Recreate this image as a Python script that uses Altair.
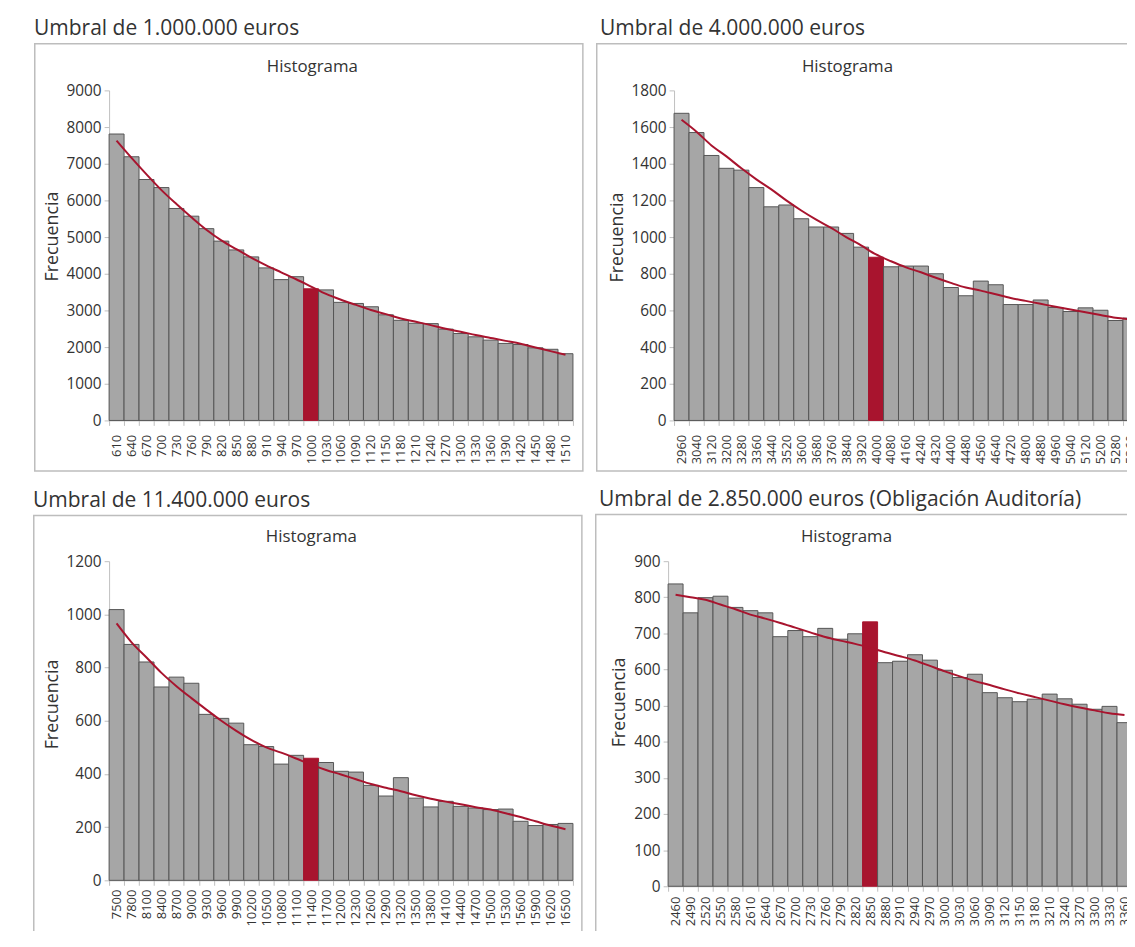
import altair as alt
import pandas as pd

FONT = "Open Sans"
TXT = "#333333"
RED = "#a8142e"
GRAY = "#a6a6a6"
EDGE = "#555555"
BOX = "#bdbdbd"
AX = "#bfbfbf"

# ---------------- data ----------------
p1_title = "Umbral de 1.000.000 euros"
p1_bins = ["610", "640", "670", "700", "730", "760", "790", "820", "850", "880",
           "910", "940", "970", "1000", "1030", "1060", "1090", "1120", "1150", "1180",
           "1210", "1240", "1270", "1300", "1330", "1360", "1390", "1420", "1450", "1480", "1510"]
p1_counts = [7810, 7190, 6570, 6350, 5780, 5570, 5230, 4890, 4650, 4460,
             4160, 3840, 3920, 3590, 3560, 3220, 3190, 3100, 2880, 2730,
             2650, 2640, 2490, 2370, 2280, 2190, 2100, 2070, 1980, 1940, 1820]
p1_trend = [7630, 7160, 6710, 6280, 5900, 5540, 5200, 4910, 4670, 4440,
            4230, 4040, 3850, 3650, 3450, 3290, 3150, 3010, 2900, 2780,
            2690, 2600, 2500, 2420, 2330, 2250, 2170, 2090, 1990, 1890, 1790]
p1_hi = "1000"

p2_title = "Umbral de 4.000.000 euros"
p2_bins = ["2960", "3040", "3120", "3200", "3280", "3360", "3440", "3520", "3600", "3680",
           "3760", "3840", "3920", "4000", "4080", "4160", "4240", "4320", "4400", "4480",
           "4560", "4640", "4720", "4800", "4880", "4960", "5040", "5120", "5200", "5280", "5360"]
p2_counts = [1675, 1570, 1445, 1375, 1365, 1270, 1165, 1175, 1100, 1055,
             1055, 1020, 945, 890, 838, 842, 842, 800, 725, 680,
             760, 740, 632, 632, 657, 616, 594, 614, 601, 545, 558]
p2_trend = [1640, 1575, 1500, 1440, 1375, 1315, 1260, 1200, 1145, 1095,
            1050, 1000, 955, 905, 868, 835, 808, 778, 750, 725,
            708, 688, 668, 652, 636, 620, 605, 590, 575, 560, 552]
p2_hi = "4000"

p3_title = "Umbral de 11.400.000 euros"
p3_bins = ["7500", "7800", "8100", "8400", "8700", "9000", "9300", "9600", "9900", "10200",
           "10500", "10800", "11100", "11400", "11700", "12000", "12300", "12600", "12900", "13200",
           "13500", "13800", "14100", "14400", "14700", "15000", "15300", "15600", "15900", "16200", "16500"]
p3_counts = [1018, 887, 821, 727, 764, 741, 624, 609, 591, 510,
             503, 437, 470, 459, 443, 410, 407, 357, 317, 386,
             309, 276, 297, 278, 272, 266, 268, 222, 206, 210, 214]
p3_trend = [966, 895, 838, 780, 730, 685, 642, 600, 562, 528,
            500, 480, 458, 435, 415, 398, 380, 362, 348, 335,
            320, 307, 296, 286, 275, 266, 252, 238, 222, 206, 192]
p3_hi = "11400"

p4_title = "Umbral de 2.850.000 euros (Obligación Auditoría)"
p4_bins = ["2460", "2490", "2520", "2550", "2580", "2610", "2640", "2670", "2700", "2730",
           "2760", "2790", "2820", "2850", "2880", "2910", "2940", "2970", "3000", "3030",
           "3060", "3090", "3120", "3150", "3180", "3210", "3240", "3270", "3300", "3330", "3360"]
p4_counts = [837, 757, 799, 803, 772, 763, 757, 691, 708, 691,
             714, 684, 699, 732, 619, 623, 641, 626, 598, 578,
             587, 536, 522, 511, 518, 532, 519, 504, 490, 498, 453]
p4_trend = [807, 800, 793, 780, 767, 752, 741, 729, 716, 703,
            690, 680, 671, 660, 648, 637, 625, 610, 595, 581,
            568, 557, 545, 534, 524, 514, 504, 495, 487, 479, 474]
p4_hi = "2850"

one = pd.DataFrame({"k": [0]})
W = 468


def panel(title, bins, counts, trend, hi, ymax, ystep, height, box, hx, lpad, tdx, ty):
    df = pd.DataFrame({"bin": bins, "count": counts, "trend": trend})
    df["hi"] = df["bin"] == hi
    xscale = alt.Scale(paddingInner=0, paddingOuter=0)
    xaxis = alt.Axis(title=None, labelAngle=-90, tickBand="extent",
                     labelFontSize=13, labelFont=FONT, labelColor=TXT,
                     labelPadding=lpad, tickSize=5, tickColor=AX,
                     domainColor=AX, labelOverlap=False, labelBound=False)
    yaxis = alt.Axis(values=list(range(0, ymax + 1, ystep)), format="d", grid=False,
                     title="Frecuencia", titleFont=FONT, titleFontSize=18,
                     titleFontWeight="normal", titleColor=TXT, titlePadding=5,
                     titleY=ty,
                     labelFontSize=15.5, labelFont=FONT, labelColor=TXT,
                     labelPadding=3, tickSize=5, tickColor=AX, domainColor=AX)
    yscale = alt.Scale(domain=[0, ymax], nice=False)

    frame = alt.Chart(one).mark_rect(fill="transparent", stroke=BOX, strokeWidth=1.5).encode(
        x=alt.value(box[0]), x2=alt.value(box[1]), y=alt.value(box[2]), y2=alt.value(box[3]))
    bars = alt.Chart(df).mark_bar(strokeWidth=1).encode(
        x=alt.X("bin:N", sort=None, scale=xscale, axis=xaxis),
        y=alt.Y("count:Q", scale=yscale, axis=yaxis),
        fill=alt.condition(alt.datum.hi, alt.value(RED), alt.value(GRAY)),
        stroke=alt.condition(alt.datum.hi, alt.value(RED), alt.value(EDGE)),
    )
    line = alt.Chart(df).mark_line(color=RED, strokeWidth=2, interpolate="monotone").encode(
        x=alt.X("bin:N", sort=None, scale=xscale, axis=xaxis),
        y=alt.Y("trend:Q", scale=yscale, axis=yaxis),
    )
    label = alt.Chart(one).mark_text(text="Histograma", font=FONT, fontSize=17, color=TXT,
                                     baseline="alphabetic", align="center").encode(
        x=alt.value(hx), y=alt.value(-19))
    return alt.layer(frame, bars, line, label).properties(
        width=W, height=height,
        title=alt.TitleParams(title, anchor="start", frame="bounds", fontSize=21.2, font=FONT,
                              fontWeight="normal", color=TXT, offset=4, dx=tdx),
    )


c1 = panel(p1_title, p1_bins, p1_counts, p1_trend, p1_hi, 9000, 1000, 333,
           (-75, 478, -47, 384), 205, 9, 0, 147)
c2 = panel(p2_title, p2_bins, p2_counts, p2_trend, p2_hi, 1800, 200, 333,
           (-78, 478, -47, 384), 175, 9, 4, 148)
c3 = panel(p3_title, p3_bins, p3_counts, p3_trend, p3_hi, 1200, 200, 322,
           (-76, 477, -46, 380), 204, 4, 0, 144)
c4 = panel(p4_title, p4_bins, p4_counts, p4_trend, p4_hi, 900, 100, 328,
           (-73, 478, -47, 380), 180, 5, 4, 142)

chart = alt.vconcat(
    alt.hconcat(c1, c2, spacing=12),
    alt.hconcat(c3, c4, spacing=12),
    spacing=17,
).properties(
    padding={"left": 25, "top": 6, "right": -22, "bottom": -12}
).configure_view(stroke=None)

chart.save("out.html", embed_options={"renderer": "svg", "actions": False})
